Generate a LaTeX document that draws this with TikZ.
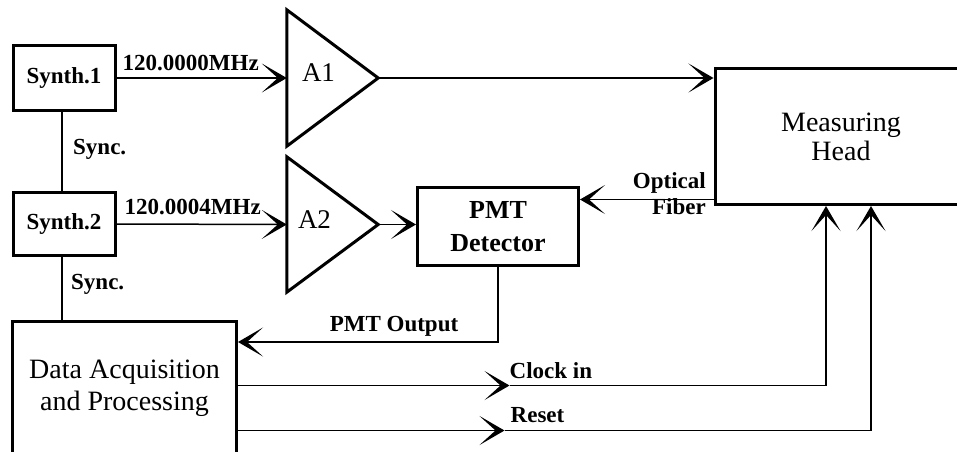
\documentclass[tikz,border=0pt]{standalone}
\usepackage{fontspec}
\setmainfont{Liberation Serif}
\usetikzlibrary{arrows.meta,positioning,calc}

\begin{document}
\begin{tikzpicture}[
    x=1pt, y=-1pt,
    box/.style={draw=black, line width=3pt, inner sep=0pt, align=center},
    amp/.style={draw=none, inner sep=0pt, minimum width=91pt, minimum height=136pt},
    tri/.style={draw=black, line width=3pt, line join=miter},
    arr/.style={-{Stealth[length=25pt, width=29pt, inset=16pt]}, line width=1.5pt},
    wire/.style={line width=1.5pt},
    lbl/.style={font=\fontsize{23}{26}\selectfont\bfseries, inner sep=0pt},
    big/.style={font=\fontsize{28}{31}\selectfont, inner sep=0pt}
]
\clip (0,0) rectangle (957,451);

% sources and amplifiers
\node[box, lbl, minimum width=102pt, minimum height=65pt] (s1) at (64,78) {Synth.1};
\node[box, lbl, minimum width=102pt, minimum height=63pt] (s2) at (64,224) {Synth.2};
\node[amp] (a1) at (332.5,78) {};
\node[amp, minimum height=135pt] (a2) at (332.5,224.5) {};
\draw[tri] (a1.north west) -- (a1.east) -- (a1.south west) -- cycle;
\draw[tri] (a2.north west) -- (a2.east) -- (a2.south west) -- cycle;
\node[big, font=\fontsize{27}{31}\selectfont, anchor=west] (a1l) at ([xshift=15pt, yshift=5pt]a1.west) {A1};
\node[big, font=\fontsize{27}{31}\selectfont, anchor=west] (a2l) at ([xshift=11pt, yshift=4.5pt]a2.west) {A2};

% head, detector, acquisition
\node[box, big, font=\fontsize{28}{29}\selectfont, minimum width=252pt, minimum height=136pt] (mh) at (841,136.5) {Measuring\\Head};
\node[box, big, font=\fontsize{26}{33}\selectfont\bfseries, minimum width=161pt, minimum height=78pt] (pmt) at (498,226.5) {PMT\\Detector};
\node[box, big, font=\fontsize{28}{32}\selectfont, minimum width=224pt, minimum height=133.5pt] (daq) at (124.5,388.25) {Data Acquisition\\and Processing};

\draw[arr] (s1.east) -- (a1.west);
\draw[arr] (s2.east) -- (a2.west);
\draw[arr] (a1.east) -- (a1.east -| mh.west);
\draw[arr] (a2.east) -- (a2.east -| pmt.west);
\draw[arr] ([yshift=6.5pt]mh.south west) -- ([yshift=6.5pt]mh.south west -| pmt.east);
\draw[arr] (pmt.south) |- node[lbl, pos=0.7, anchor=base, yshift=10.5pt] (pout) {PMT Output} ([yshift=-22pt]daq.north east);

\draw[wire] ([xshift=-2pt]s1.south) -- ([xshift=-2pt]s2.north);
\draw[wire] ([xshift=-2pt]s2.south) -- ([xshift=-2pt]s2.south |- daq.north);

% control lines to the head
\coordinate (clkout) at ([yshift=-65.5pt]daq.north east);
\coordinate (rstout) at ([yshift=-110.5pt]daq.north east);
\draw[arr] (clkout) -- ++(271.5,0) coordinate (clkmid);
\draw[arr] (clkmid) -| ([xshift=-15pt]mh.south);
\draw[arr] (rstout) -- ++(266.5,0) coordinate (rstmid);
\draw[arr] (rstmid) -| ([xshift=30pt]mh.south);

\node[lbl, anchor=base west] (f1) at ([xshift=6pt, yshift=8pt]s1.east) {120.0000MHz};
\node[lbl, anchor=base west] (f2) at ([xshift=8pt, yshift=10pt]s2.east) {120.0004MHz};
\node[lbl, anchor=west] (sy1) at ([xshift=9pt, yshift=2.5pt]$(s1.south)!0.5!(s2.north)$) {Sync.};
\node[lbl, anchor=west] (sy2) at ([xshift=7pt, yshift=4.5pt]$(s2.south)!0.5!(s2.south |- daq.north)$) {Sync.};
\node[lbl, align=right, anchor=east] (fib) at ([xshift=-7.5pt, yshift=12pt]mh.south west) {Optical\\Fiber};
\node[lbl, anchor=base west] (clk) at ([yshift=7pt]clkmid) {Clock in};
\node[lbl, anchor=base west] (rst) at ([xshift=6pt, yshift=8pt]rstmid) {Reset};

\end{tikzpicture}
\end{document}
